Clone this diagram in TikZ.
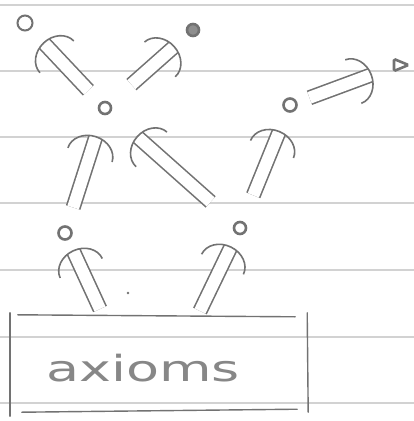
\documentclass[tikz,border=0pt]{standalone}
\usepackage{fontspec}
\newfontfamily\handfont{DejaVu Sans}
\usetikzlibrary{arrows.meta,shapes.geometric}
\definecolor{pencil}{HTML}{727272}
\definecolor{ruling}{HTML}{D2D2D2}
\tikzset{
  dotnode/.style={circle, draw=pencil, line width=2.6pt, minimum size=12pt, inner sep=0pt},
  dblline/.style={draw=pencil, line width=1.6pt, double=white, double distance=12pt, line cap=butt},
  tipline/.style={draw=white, line width=0.5pt, -{Arc Barb[color=pencil, line width=1.6pt, length=20pt, width=48pt]}},
  rule/.style={draw=ruling, line width=1.3pt},
  side/.style={draw=pencil, line width=1.4pt, line cap=round}
}
\newcommand\implarrow[4]{%
  \draw[dblline, shorten <=#3, shorten >=#4+1.5pt] (#1) -- (#2);
  \draw[tipline, shorten <=#3+4pt, shorten >=#4] (#1) -- (#2);}
\begin{document}
\begin{tikzpicture}[x=1pt, y=-1pt]
\useasboundingbox[fill=white] (0,0) rectangle (414,421);
% ruled paper
\foreach \yy in {5,71,137,203,270,337,403}
  \draw[rule] (0,\yy) -- (414,\yy);
% nodes
\node[dotnode, minimum size=15pt, line width=2pt] (tl) at (25,23) {};
\node[dotnode, fill=pencil!80, minimum size=12pt] (tm) at (193,30) {};
\node[isosceles triangle, draw=pencil, line width=2.6pt, minimum height=10pt, minimum width=12pt, inner sep=0pt, rounded corners=1.5pt] (rt) at (398,65) {};
\node[dotnode] (cl) at (105,108) {};
\node[dotnode, minimum size=13pt] (rn) at (290,105) {};
\node[dotnode, minimum size=13pt] (ll) at (65,233) {};
\node[dotnode] (lr) at (240,228) {};
% box
\node[minimum width=297pt, minimum height=96pt, inner sep=0pt] (box) at (158.5,363) {};
\draw[side] ([shift={(0,-2)}]box.north west) -- ([shift={(0,5)}]box.south west);
\draw[side] ([shift={(8,0)}]box.north west) -- ([shift={(-12,2)}]box.north east);
\draw[side] ([shift={(0,-2)}]box.north east) -- ([shift={(1,1)}]box.south east);
\draw[side] ([shift={(12,1)}]box.south west) -- ([shift={(-10,-2)}]box.south east);
\node[text=pencil!85, font=\handfont\fontsize{36}{40}\selectfont, inner sep=0pt] (axtext) at (143,368) {\scalebox{1.5}[1]{axioms}};
\fill[pencil] (128,293) circle (1.3pt);
% connector anchors on the box
\coordinate (b1) at (100,309);
\coordinate (b2) at (200,311);
% arrows
\implarrow{cl}{tl}{17pt}{18pt}
\implarrow{cl}{tm}{28pt}{17pt}
\implarrow{rn}{rt}{13pt}{22pt}
\implarrow{ll}{cl}{19pt}{22pt}
\implarrow{lr}{cl}{32pt}{35pt}
\implarrow{lr}{rn}{28pt}{20pt}
\implarrow{b1}{ll}{0pt}{11pt}
\implarrow{b2}{lr}{0pt}{13pt}
\end{tikzpicture}
\end{document}
